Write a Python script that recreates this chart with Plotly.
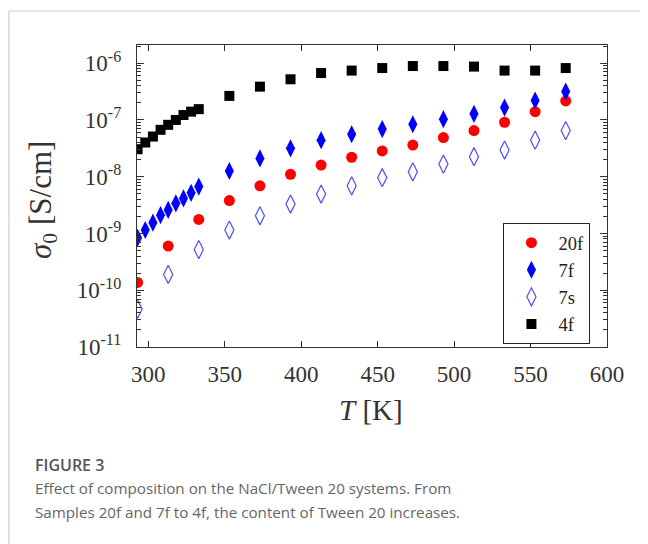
import plotly.graph_objects as go

# ---- data ----
T_dense = [293, 298, 303, 308, 313, 318, 323, 328, 333]
T_sparse = [353, 373, 393, 413, 433, 453, 473, 493, 513, 533, 553, 573]
T_20f = [293, 313, 333] + T_sparse
T_7s = [293, 313, 333] + T_sparse
T_7f = T_dense + T_sparse
T_4f = T_dense + T_sparse

sigma_20f = [1.37e-10, 6.0e-10, 1.77e-9, 3.8e-9, 6.9e-9, 1.1e-8, 1.6e-8, 2.2e-8,
             2.85e-8, 3.6e-8, 4.9e-8, 6.5e-8, 9.1e-8, 1.4e-7, 2.16e-7]
sigma_7f = [8.4e-10, 1.15e-9, 1.55e-9, 2.1e-9, 2.6e-9, 3.4e-9, 4.15e-9, 5.2e-9, 6.7e-9,
            1.26e-8, 2.1e-8, 3.16e-8, 4.4e-8, 5.6e-8, 6.9e-8, 8.4e-8, 1.03e-7,
            1.28e-7, 1.65e-7, 2.2e-7, 3.16e-7]
sigma_7s = [4.65e-11, 1.9e-10, 5.2e-10, 1.15e-9, 2.05e-9, 3.3e-9, 4.95e-9, 6.9e-9,
            9.6e-9, 1.22e-8, 1.67e-8, 2.25e-8, 2.95e-8, 4.4e-8, 6.5e-8]
sigma_4f = [3.05e-8, 4.0e-8, 5.1e-8, 6.7e-8, 8.2e-8, 1.0e-7, 1.22e-7, 1.4e-7, 1.55e-7,
            2.65e-7, 3.86e-7, 5.2e-7, 6.7e-7, 7.4e-7, 8.2e-7, 8.9e-7, 8.9e-7,
            8.7e-7, 7.4e-7, 7.4e-7, 8.2e-7]

x_ticks = [300, 350, 400, 450, 500, 550, 600]
y_exponents = [-11, -10, -9, -8, -7, -6]
y_ticktext = ["10<sup>%d</sup>" % e for e in y_exponents]

SERIF = "Liberation Serif"
AX = "#333333"

fig = go.Figure()
fig.add_trace(go.Scatter(x=T_20f, y=sigma_20f, mode="markers", name="20f",
                         marker=dict(symbol="circle", size=11, color="#ff0000")))
fig.add_trace(go.Scatter(x=T_7f, y=sigma_7f, mode="markers", name="7f",
                         marker=dict(symbol="diamond-tall", size=13, color="#0000ff")))
fig.add_trace(go.Scatter(x=T_7s, y=sigma_7s, mode="markers", name="7s",
                         marker=dict(symbol="diamond-tall-open", size=13, color="#4d4dff",
                                     line=dict(width=1.2, color="#4d4dff"))))
fig.add_trace(go.Scatter(x=T_4f, y=sigma_4f, mode="markers", name="4f",
                         marker=dict(symbol="square", size=10, color="#000000")))

minor_vals = [k * 10.0 ** e for e in range(-11, -5) for k in range(2, 10)]

fig.update_xaxes(range=[292.6, 600], tickvals=x_ticks, ticks="inside", ticklen=6,
                 tickwidth=1.2, tickcolor=AX, showline=True, linecolor=AX, linewidth=1.3,
                 mirror="ticks", showgrid=False, zeroline=False, ticklabelstandoff=6,
                 tickfont=dict(family=SERIF, size=23, color=AX))
fig.update_yaxes(type="log", range=[-11, -5.68], tickvals=[10.0 ** e for e in y_exponents],
                 ticktext=y_ticktext, ticks="inside", ticklen=7, tickwidth=1.2,
                 tickcolor=AX, showline=True, linecolor=AX, linewidth=1.3,
                 mirror="ticks", showgrid=False, zeroline=False, ticklabelstandoff=10,
                 minor=dict(tickvals=minor_vals, ticks="inside", ticklen=3.5,
                            tickwidth=1, tickcolor=AX, showgrid=False),
                 tickfont=dict(family=SERIF, size=23, color=AX))

# geometry in reference-pixel terms (page has an 8px body margin)
OFF = 8
PL, PR, PT, PB = 137, 606.7, 45, 347
W, H = PR - PL, PB - PT
def px(xp):
    return (xp - PL) / W
def py(yp):
    return (PB - yp) / H

fig.update_layout(
    width=648 - OFF, height=544 - OFF,
    margin=dict(l=PL - OFF, r=648 - PR, t=PT - OFF, b=544 - PB, autoexpand=False),
    paper_bgcolor="white", plot_bgcolor="white",
    showlegend=True,
    legend=dict(x=px(503), y=py(223), xanchor="left", yanchor="top",
                bordercolor="#222222", borderwidth=1.2, bgcolor="white",
                font=dict(family=SERIF, size=18.5, color="#222222"),
                tracegroupgap=0, itemwidth=44),
    shapes=[
        dict(type="line", xref="paper", yref="paper", x0=px(9), x1=px(660),
             y0=py(11), y1=py(11), line=dict(color="#d0d0d0", width=1.2)),
        dict(type="line", xref="paper", yref="paper", x0=px(9), x1=px(9),
             y0=py(11), y1=py(560), line=dict(color="#d0d0d0", width=1.2)),
    ],
    annotations=[
        dict(text="<i>T</i> [K]", xref="paper", yref="paper", x=px(371), y=py(410),
             xanchor="center", yanchor="middle", showarrow=False,
             font=dict(family=SERIF, size=29, color=AX)),
        dict(text="<i>σ</i><sub>0</sub> [S/cm]", xref="paper", yref="paper",
             x=px(43), y=py(200), xanchor="center", yanchor="middle", showarrow=False,
             textangle=-90, font=dict(family=SERIF, size=31, color=AX)),
        dict(text="FIGURE 3", xref="paper", yref="paper", x=px(33), y=py(465),
             xanchor="left", yanchor="middle", showarrow=False,
             font=dict(family="Open Sans", size=16, color="#555555", weight=600)),
        dict(text="Effect of composition on the NaCl/Tween 20 systems. From",
             xref="paper", yref="paper", x=px(33), y=py(488),
             xanchor="left", yanchor="middle", showarrow=False,
             font=dict(family="Open Sans", size=15.2, color="#666666")),
        dict(text="Samples 20f and 7f to 4f, the content of Tween 20 increases.",
             xref="paper", yref="paper", x=px(33), y=py(512),
             xanchor="left", yanchor="middle", showarrow=False,
             font=dict(family="Open Sans", size=15.2, color="#666666")),
    ],
)

fig.write_html("out.html")
